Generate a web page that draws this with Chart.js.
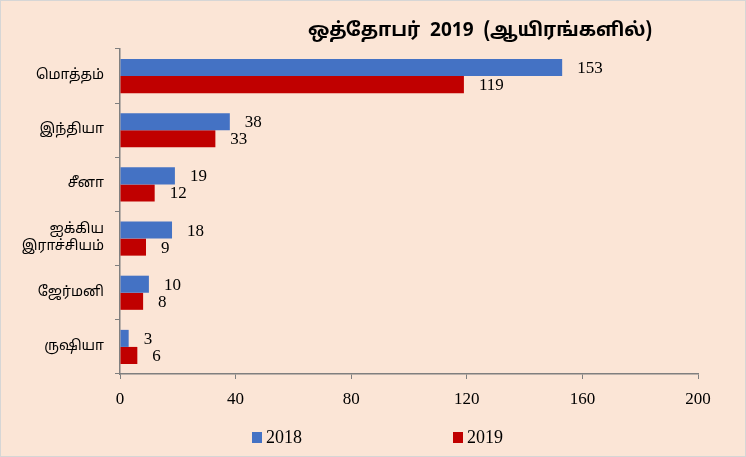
<!DOCTYPE html>
<html>
<head>
<meta charset="utf-8">
<script src="https://cdn.jsdelivr.net/npm/chart.js@4/dist/chart.umd.min.js"></script>
<style>
  html, body { margin: 0; padding: 0; background: #fff; }
  #wrap { position: relative; width: 744px; height: 455px; border: 1px solid #d6d6d6; background: #fbe5d6; }
</style>
</head>
<body>
<div id="wrap"><canvas id="myChart" width="744" height="455"></canvas></div>
<script>
const labels = ['மொத்தம்', 'இந்தியா', 'சீனா', ['ஐக்கிய', 'இராச்சியம்'], 'ஜேர்மனி', 'ருஷியா'];
const values2018 = [153, 38, 19, 18, 10, 3];
const values2019 = [119, 33, 12, 9, 8, 6];
const xTicks = [0, 40, 80, 120, 160, 200];
const titleText = 'ஒத்தோபர்  2019  (ஆயிரங்களில்)';

const serif = '"Liberation Serif", "DejaVu Serif", serif';
const tamil = '"Noto Sans Tamil", sans-serif';

// value labels to the right of each bar
const valueLabels = {
  id: 'valueLabels',
  afterDatasetsDraw(chart) {
    const ctx = chart.ctx;
    ctx.save();
    ctx.font = '17px ' + serif;
    ctx.fillStyle = '#000';
    ctx.textAlign = 'left';
    ctx.textBaseline = 'middle';
    chart.data.datasets.forEach((ds, i) => {
      chart.getDatasetMeta(i).data.forEach((bar, j) => {
        ctx.fillText(ds.data[j], bar.x + 15, bar.y + 1);
      });
    });
    ctx.restore();
  }
};

// title and legend, placed like the original
const titleLegend = {
  id: 'titleLegend',
  afterDraw(chart) {
    const ctx = chart.ctx;
    ctx.save();
    ctx.font = 'bold 19px ' + tamil;
    ctx.fillStyle = '#000';
    ctx.textAlign = 'center';
    ctx.textBaseline = 'middle';
    ctx.fillText(titleText, 479, 31);

    const xs = [251, 452];
    ctx.font = '18px ' + serif;
    ctx.textAlign = 'left';
    chart.data.datasets.forEach((ds, i) => {
      ctx.fillStyle = ds.backgroundColor;
      ctx.fillRect(xs[i], 431, 10, 11);
      ctx.fillStyle = '#000';
      ctx.fillText(ds.label, xs[i] + 14, 437);
    });
    ctx.restore();
  }
};

const config = {
  type: 'bar',
  data: {
    labels: labels,
    datasets: [
      { label: '2018', data: values2018, backgroundColor: '#4472c4', categoryPercentage: 0.63, barPercentage: 1.0 },
      { label: '2019', data: values2019, backgroundColor: '#c00000', categoryPercentage: 0.63, barPercentage: 1.0 }
    ]
  },
  options: {
    indexAxis: 'y',
    responsive: false,
    animation: false,
    layout: { padding: { top: 48, right: 47, left: 0, bottom: 37 } },
    scales: {
      x: {
        min: 0, max: 200,
        afterBuildTicks(scale) { scale.ticks = xTicks.map(v => ({ value: v })); },
        grid: { display: true, drawOnChartArea: false, drawTicks: true, tickLength: 5, color: '#7f7f7f' },
        border: { display: true, color: '#7f7f7f', width: 1.5 },
        ticks: { color: '#000', font: { family: serif, size: 17 }, padding: 10, maxRotation: 0 },
        afterFit(scale) { scale.height = 45; }
      },
      y: {
        grid: { display: true, drawOnChartArea: false, offset: true, tickLength: 5, color: '#7f7f7f' },
        border: { display: true, color: '#7f7f7f', width: 1.5 },
        ticks: { color: '#000', font: { family: tamil, size: 14 }, padding: 11, autoSkip: false },
        afterFit(scale) { scale.width = 119; }
      }
    },
    plugins: {
      title: { display: false },
      tooltip: { enabled: false },
      legend: { display: false }
    }
  },
  plugins: [valueLabels, titleLegend]
};

new Chart(document.getElementById('myChart'), config);
</script>
</body>
</html>
